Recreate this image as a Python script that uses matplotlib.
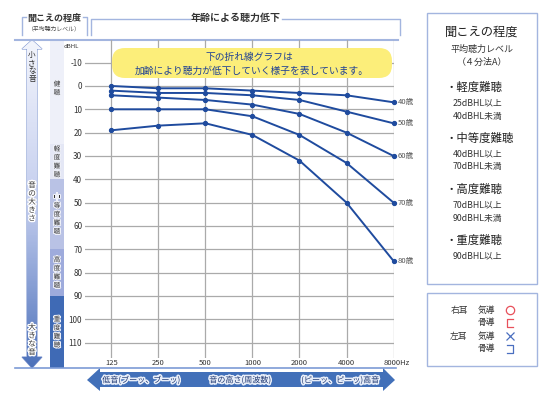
import matplotlib
matplotlib.use('Agg')
import matplotlib.pyplot as plt
import numpy as np
from matplotlib.patches import FancyBboxPatch, Polygon, Rectangle
from matplotlib.colors import LinearSegmentedColormap
from matplotlib import patheffects
from matplotlib.transforms import blended_transform_factory

plt.rcParams['font.family'] = ['Noto Sans CJK JP', 'DejaVu Sans']

# データ
freqs = ['125', '250', '500', '1000', '2000', '4000', '8000']
ages = ['40歳', '50歳', '60歳', '70歳', '80歳']
loss_40 = [0, 1, 1, 2, 3, 4, 7]
loss_50 = [2, 3, 3, 4, 6, 11, 16]
loss_60 = [4, 5, 6, 8, 12, 20, 30]
loss_70 = [10, 10, 10, 13, 21, 33, 50]
loss_80 = [19, 17, 16, 21, 32, 50, 75]
y_ticks = [-10, 0, 10, 20, 30, 40, 50, 60, 70, 80, 90, 100, 110]

band_names = ['健聴', '軽度難聴', '中等度難聴', '高度難聴', '重度難聴']
band_edges = [-19.7, 25, 40, 70, 90, 121]
band_colors = ['#eef0f9', '#e4e7f5', '#b9c2e5', '#9eabdc', '#3f6ab5']

legend_items = [
    ('・軽度難聴', ['25dBHL以上', '40dBHL未満']),
    ('・中等度難聴', ['40dBHL以上', '70dBHL未満']),
    ('・高度難聴', ['70dBHL以上', '90dBHL未満']),
    ('・重度難聴', ['90dBHL以上']),
]

LINE = '#1f4b9e'
DECO = '#a3b5df'
W, H = 550, 400

fig = plt.figure(figsize=(5.5, 4), dpi=100)

# 背景用の軸 (ピクセル座標)
bg = fig.add_axes([0, 0, 1, 1], zorder=0)
bg.set_xlim(0, W)
bg.set_ylim(H, 0)
bg.axis('off')

# グラフ本体
ax = fig.add_axes([85 / W, 1 - 358 / H, 309 / W, 318 / H], zorder=1)
ax.patch.set_alpha(0)
ax.set_xlim(-0.562, 6.01)
ax.set_ylim(116.6, -19.7)
for s in ax.spines.values():
    s.set_visible(False)
ax.set_xticks(range(len(freqs)))
ax.set_xticklabels([f if f != '8000' else '' for f in freqs], fontsize=5.5, color='#333')
ax.set_yticks(y_ticks)
ax.set_yticklabels([str(t) for t in y_ticks], fontsize=5.8, color='#333')
ax.tick_params(length=0, pad=2)
ax.tick_params(axis='x', pad=1)
ax.grid(True, color='#aaaaaa', linewidth=0.9)
ax.set_axisbelow(True)

series = [loss_40, loss_50, loss_60, loss_70, loss_80]
x = np.arange(len(freqs))
for name, vals in zip(ages, series):
    ax.plot(x, vals, color=LINE, linewidth=1.4, marker='o', markersize=2.8,
            clip_on=False, zorder=3)
    ax.annotate(name, (x[-1], vals[-1]), xytext=(3, 0), textcoords='offset points',
                va='center', ha='left', fontsize=5.5, color='#555',
                annotation_clip=False)
ax.annotate('8000Hz', (6, 116.6), xytext=(-7, -1), textcoords='offset points',
            ha='left', va='top', fontsize=5.5, color='#333', annotation_clip=False)

# 前景用の軸
fg = fig.add_axes([0, 0, 1, 1], zorder=2)
fg.set_xlim(0, W)
fg.set_ylim(H, 0)
fg.axis('off')
fg.patch.set_alpha(0)

fg.add_patch(FancyBboxPatch((112, 48), 280, 30,
                            boxstyle='round,pad=0,rounding_size=13',
                            facecolor='#fcee7a', edgecolor='none'))
fg.text(249, 57, '下の折れ線グラフは', ha='center', va='center', fontsize=7, color='#1d3f94')
fg.text(252, 71, '加齢により聴力が低下していく様子を表しています。', ha='center', va='center',
        fontsize=7, color='#1d3f94')

# 上部の枠線・見出し
bg.plot([15, 398], [40, 40], color=DECO, linewidth=1.5)
bg.plot([15, 396], [368, 368], color='#7d9bd6', linewidth=1.2)
bg.plot([22, 22, 26], [35, 17, 17], color=DECO, linewidth=1)
bg.plot([83, 87, 87], [17, 17, 35], color=DECO, linewidth=1)
bg.plot([91, 91, 190], [35, 19, 19], color=DECO, linewidth=1)
bg.plot([282, 400, 400], [19, 19, 35], color=DECO, linewidth=1)
bg.text(54, 18, '聞こえの程度', ha='center', va='center', fontsize=6.5,
        fontweight='bold', color='#333')
bg.text(54, 29, '（平均聴力レベル）', ha='center', va='center', fontsize=4.2, color='#444')
bg.text(236, 18, '年齢による聴力低下', ha='center', va='center', fontsize=7.2,
        fontweight='bold', color='#333')

# 左の縦矢印
grad = LinearSegmentedColormap.from_list('g', ['#f3f5fc', '#c3cdee', '#4c71ba'])
arrow_v = Polygon([(32, 40), (42, 49), (37, 49), (37, 357), (42, 357), (32, 368),
                   (22, 357), (27, 357), (27, 49), (22, 49)], closed=True,
                  facecolor='none', edgecolor='#7f95d0', linewidth=0.8)
bg.add_patch(arrow_v)
img = bg.imshow(np.linspace(0, 1, 200).reshape(-1, 1), cmap=grad, aspect='auto',
                extent=[22, 42, 368, 40], origin='upper', zorder=1)
img.set_clip_path(arrow_v)
halo = [patheffects.withStroke(linewidth=2, foreground='white')]
bg.text(32, 67, '\n'.join('小さな音'), ha='center', va='center', fontsize=5.5,
        linespacing=1.05, color='#333', zorder=2)
bg.text(32, 202, '\n'.join('音の大きさ'), ha='center', va='center', fontsize=5.5,
        linespacing=1.05, color='#333', zorder=2, path_effects=halo)
bg.text(32, 340, '\n'.join('大きな音'), ha='center', va='center', fontsize=5.5,
        linespacing=1.05, color='#333', zorder=2, path_effects=halo)

# 聞こえの程度の帯
tb = blended_transform_factory(bg.transData, ax.transData)
for name, lo, hi, c in zip(band_names, band_edges[:-1], band_edges[1:], band_colors):
    bg.add_patch(Rectangle((50, lo), 14, hi - lo, transform=tb, facecolor=c,
                           edgecolor='none', zorder=1))
    bg.text(57, (lo + hi) / 2 if name != '健聴' else 1, '\n'.join(name), transform=tb,
            ha='center', va='center', fontsize=4.8, linespacing=1.1, color='#333',
            zorder=2, path_effects=[patheffects.withStroke(linewidth=1.5, foreground='#eef0f8')])
bg.text(71, 47, 'dBHL', ha='center', va='center', fontsize=4.3, color='#333')

# 下の横矢印
arrow_h = Polygon([(87, 380), (100, 368), (100, 372), (383, 372), (383, 368), (395, 380),
                   (383, 391), (383, 387), (100, 387), (100, 391)], closed=True,
                  facecolor='#4270b9', edgecolor='none')
bg.add_patch(arrow_h)
halo2 = [patheffects.withStroke(linewidth=2.2, foreground='#e8eef9')]
for tx, s in [(141, '低音(ブーッ、ブーッ)'), (240, '音の高さ(周波数)'), (340, '(ピーッ、ピーッ)高音')]:
    bg.text(tx, 380, s, ha='center', va='center', fontsize=5.8, color='#1c3570',
            path_effects=halo2)

# 右の凡例
bg.add_patch(Rectangle((427, 13), 110, 271, facecolor='white', edgecolor=DECO, linewidth=1))
bg.text(482, 32, '聞こえの程度', ha='center', va='center', fontsize=8.8, color='#222')
bg.text(482, 49, '平均聴力レベル', ha='center', va='center', fontsize=6.5, color='#333')
bg.text(482, 62, '（４分法A）', ha='center', va='center', fontsize=6.5, color='#333')
yy = 87
for head, lines in legend_items:
    bg.text(445, yy, head, ha='left', va='center', fontsize=8.2, color='#222')
    for i, ln in enumerate(lines):
        bg.text(453, yy + 16 + 13 * i, ln, ha='left', va='center', fontsize=6.3, color='#333')
    yy += 51

bg.add_patch(Rectangle((427, 293), 110, 73, facecolor='white', edgecolor=DECO, linewidth=1))
RED = '#e8505b'
BLUE = '#4a6fc0'
bg.text(459, 310, '右耳', ha='center', va='center', fontsize=6.3, color='#333')
bg.text(459, 336, '左耳', ha='center', va='center', fontsize=6.3, color='#333')
for yv in [310, 323, 336, 349]:
    bg.text(486, yv, '気導' if yv in (310, 336) else '骨導', ha='center', va='center',
            fontsize=6.3, color='#333')
bg.plot([510], [310], marker='o', markersize=6, markerfacecolor='none',
        markeredgecolor=RED, markeredgewidth=0.9)
bg.plot([513, 507, 507, 513], [319, 319, 327, 327], color=RED, linewidth=0.9)
bg.plot([510], [336], marker='x', markersize=5.5, color=BLUE, markeredgewidth=0.9)
bg.plot([507, 513, 513, 507], [345, 345, 353, 353], color=BLUE, linewidth=0.9)

fig.savefig('out.png', dpi=100)
